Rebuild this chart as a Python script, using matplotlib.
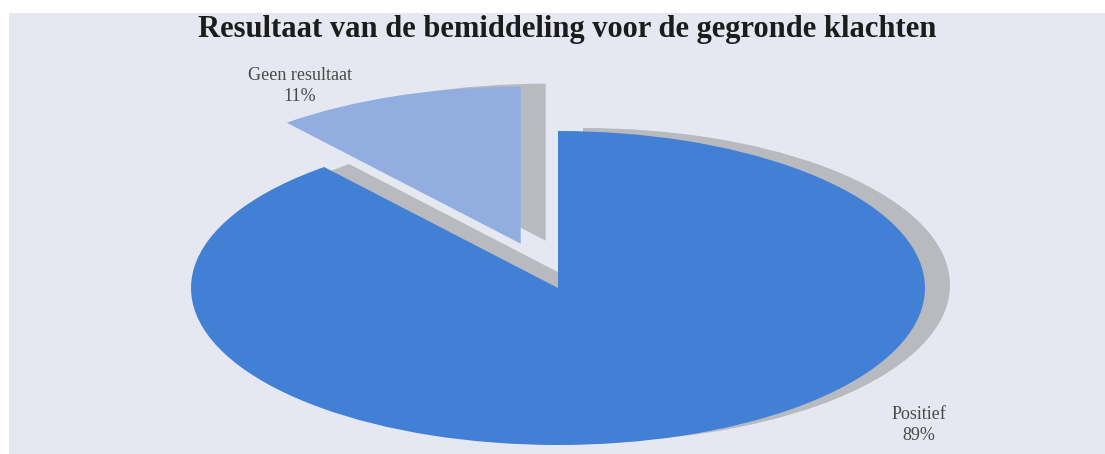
import matplotlib
matplotlib.use("Agg")
import matplotlib.pyplot as plt

# data
labels = ["Positief", "Geen resultaat"]
shares = [89, 11]
explode = [0, 0.30]

W, H = 1105, 454
# pie centre and radii in pixels (scanned pie is squashed into an ellipse)
cx, cy = 558, 288
rx, ry = 367, 157

fig = plt.figure(figsize=(W / 100, H / 100), dpi=100)
fig.patch.set_facecolor("white")

# paper background
bg = fig.add_axes([9 / W, 0, 1 - 9 / W, 1 - 13 / H])
bg.set_facecolor("#e5e8f1")
bg.set_xticks([])
bg.set_yticks([])
for s in bg.spines.values():
    s.set_visible(False)

ax = fig.add_axes([0, 0, 1, 1])
ax.patch.set_alpha(0)

# shadow pie, shifted up/right
ax.pie(shares, explode=explode, startangle=90, counterclock=False,
       radius=1, center=(25 / rx, 3 / ry),
       colors=["#b9babf", "#b9babf"],
       wedgeprops=dict(linewidth=0, zorder=1))
# real pie
ax.pie(shares, explode=explode, startangle=90, counterclock=False,
       radius=1, center=(0, 0),
       colors=["#4180d4", "#92addf"],
       wedgeprops=dict(linewidth=0, zorder=2))

ax.set_aspect("auto")
ax.set_xlim(-cx / rx, (W - cx) / rx)
ax.set_ylim(-(H - cy) / ry, cy / ry)
ax.axis("off")

fig.text(567 / W, 1 - 29 / H,
         "Resultaat van de bemiddeling voor de gegronde klachten",
         ha="center", va="center", fontsize=22, fontweight="bold",
         family="Liberation Serif", color="#1c1c1c")

fig.text(300 / W, 1 - 86 / H, "%s\n%d%%" % (labels[1], shares[1]),
         ha="center", va="center", fontsize=13, family="Liberation Serif",
         color="#4a4a4a", linespacing=1.3)
fig.text(919 / W, 1 - 425 / H, "%s\n%d%%" % (labels[0], shares[0]),
         ha="center", va="center", fontsize=13, family="Liberation Serif",
         color="#4a4a4a", linespacing=1.3)

fig.savefig("out.png", dpi=100)
